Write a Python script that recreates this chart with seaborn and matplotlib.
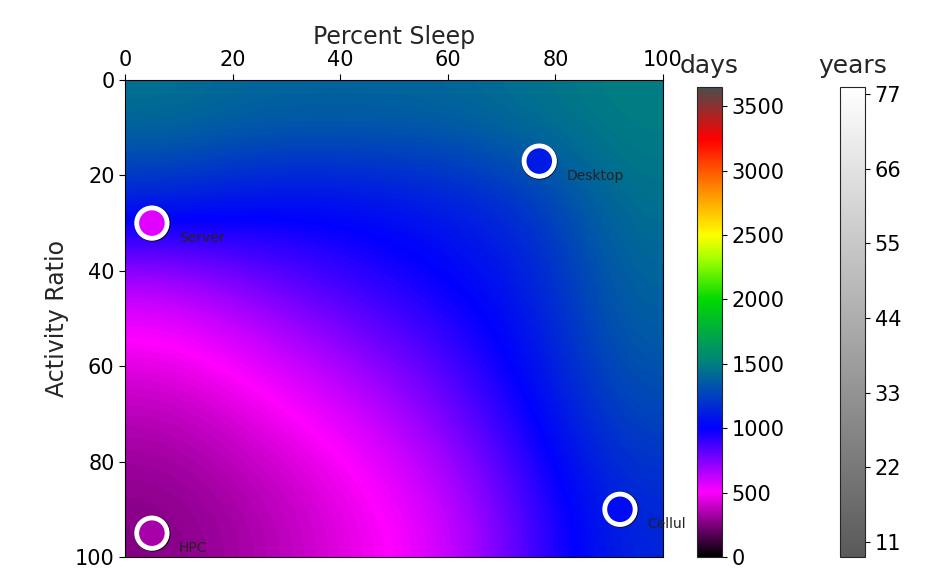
import numpy as np
import matplotlib
matplotlib.use("Agg")
import matplotlib.pyplot as plt
import seaborn as sns
from matplotlib.colors import LinearSegmentedColormap, Normalize
from matplotlib.cm import ScalarMappable

sns.set_style("ticks")
plt.rcParams['font.family'] = ['DejaVu Sans']

# estimated lifetime (days) on a coarse grid: rows = activity ratio, cols = percent sleep
grid_x = [0, 20, 40, 60, 80, 100]
grid_y = [0, 20, 40, 60, 80, 100]
days = [
    [1450, 1400, 1400, 1400, 1450, 1500],
    [1150, 1050, 1050, 1100, 1200, 1450],
    [650, 800, 900, 1000, 1100, 1400],
    [450, 550, 700, 850, 1050, 1350],
    [330, 420, 520, 700, 950, 1250],
    [260, 340, 450, 560, 850, 1150],
]

devices = ["Server", "Desktop", "HPC", "Cellul"]
dev_sleep = [5, 77, 5, 92]
dev_activity = [30, 17, 95, 90]
dev_days = [560, 1100, 330, 1050]

cmap = LinearSegmentedColormap.from_list("life", [
    (0.0, (0, 0, 0)),
    (500 / 3650, (1, 0, 1)),
    (1000 / 3650, (0, 0, 1)),
    (1500 / 3650, (0, 0.5, 0.5)),
    (2000 / 3650, (0, 0.85, 0)),
    (2300 / 3650, (0.6, 1, 0)),
    (2500 / 3650, (1, 1, 0)),
    (2850 / 3650, (1, 0.55, 0)),
    (3250 / 3650, (1, 0, 0)),
    (1.0, (0.3, 0.3, 0.3)),
])
norm = Normalize(0, 3650)

fig = plt.figure(figsize=(9.5, 5.85), dpi=100)
ax = fig.add_axes([125 / 950, 28 / 585, 538 / 950, 477 / 585])
ax.imshow(np.array(days), cmap=cmap, norm=norm, interpolation="bicubic",
          extent=[grid_x[0], grid_x[-1], grid_y[-1], grid_y[0]], aspect="auto")
ax.set_xlim(0, 100)
ax.set_ylim(100, 0)
ax.scatter(dev_sleep, dev_activity, s=620, c="black", zorder=3)
ax.scatter(dev_sleep, dev_activity, s=480, c=dev_days, cmap=cmap, norm=norm,
           edgecolors="white", linewidths=3.5, zorder=4)
for name, x, y in zip(devices, dev_sleep, dev_activity):
    ax.text(x + 5, y + 4, name, fontsize=10, color="#222222", zorder=5)
ax.xaxis.tick_top()
ax.xaxis.set_label_position("top")
ax.set_xlabel("Percent Sleep", fontsize=17)
ax.set_ylabel("Activity Ratio", fontsize=17)
ax.set_xticks([0, 20, 40, 60, 80, 100])
ax.set_yticks([0, 20, 40, 60, 80, 100])
ax.tick_params(labelsize=15, length=4, colors="black")
for sp in ax.spines.values():
    sp.set_visible(True)
    sp.set_color("black")

cax1 = fig.add_axes([697 / 950, 28 / 585, 25 / 950, 470 / 585])
cb1 = fig.colorbar(ScalarMappable(norm=norm, cmap=cmap), cax=cax1)
cb1.set_ticks([0, 500, 1000, 1500, 2000, 2500, 3000, 3500])
cb1.ax.tick_params(labelsize=15, colors="black")
cax1.set_title("days", fontsize=18, pad=10)

gray = LinearSegmentedColormap.from_list("yrs", [(0.35, 0.35, 0.35), (1, 1, 1)])
cax2 = fig.add_axes([840 / 950, 28 / 585, 25 / 950, 470 / 585])
cb2 = fig.colorbar(ScalarMappable(norm=Normalize(8.8, 78), cmap=gray), cax=cax2)
cb2.set_ticks([11, 22, 33, 44, 55, 66, 77])
cb2.ax.tick_params(labelsize=15, colors="black")
cax2.set_title("years", fontsize=18, pad=10)

fig.savefig("out.png", dpi=100)
